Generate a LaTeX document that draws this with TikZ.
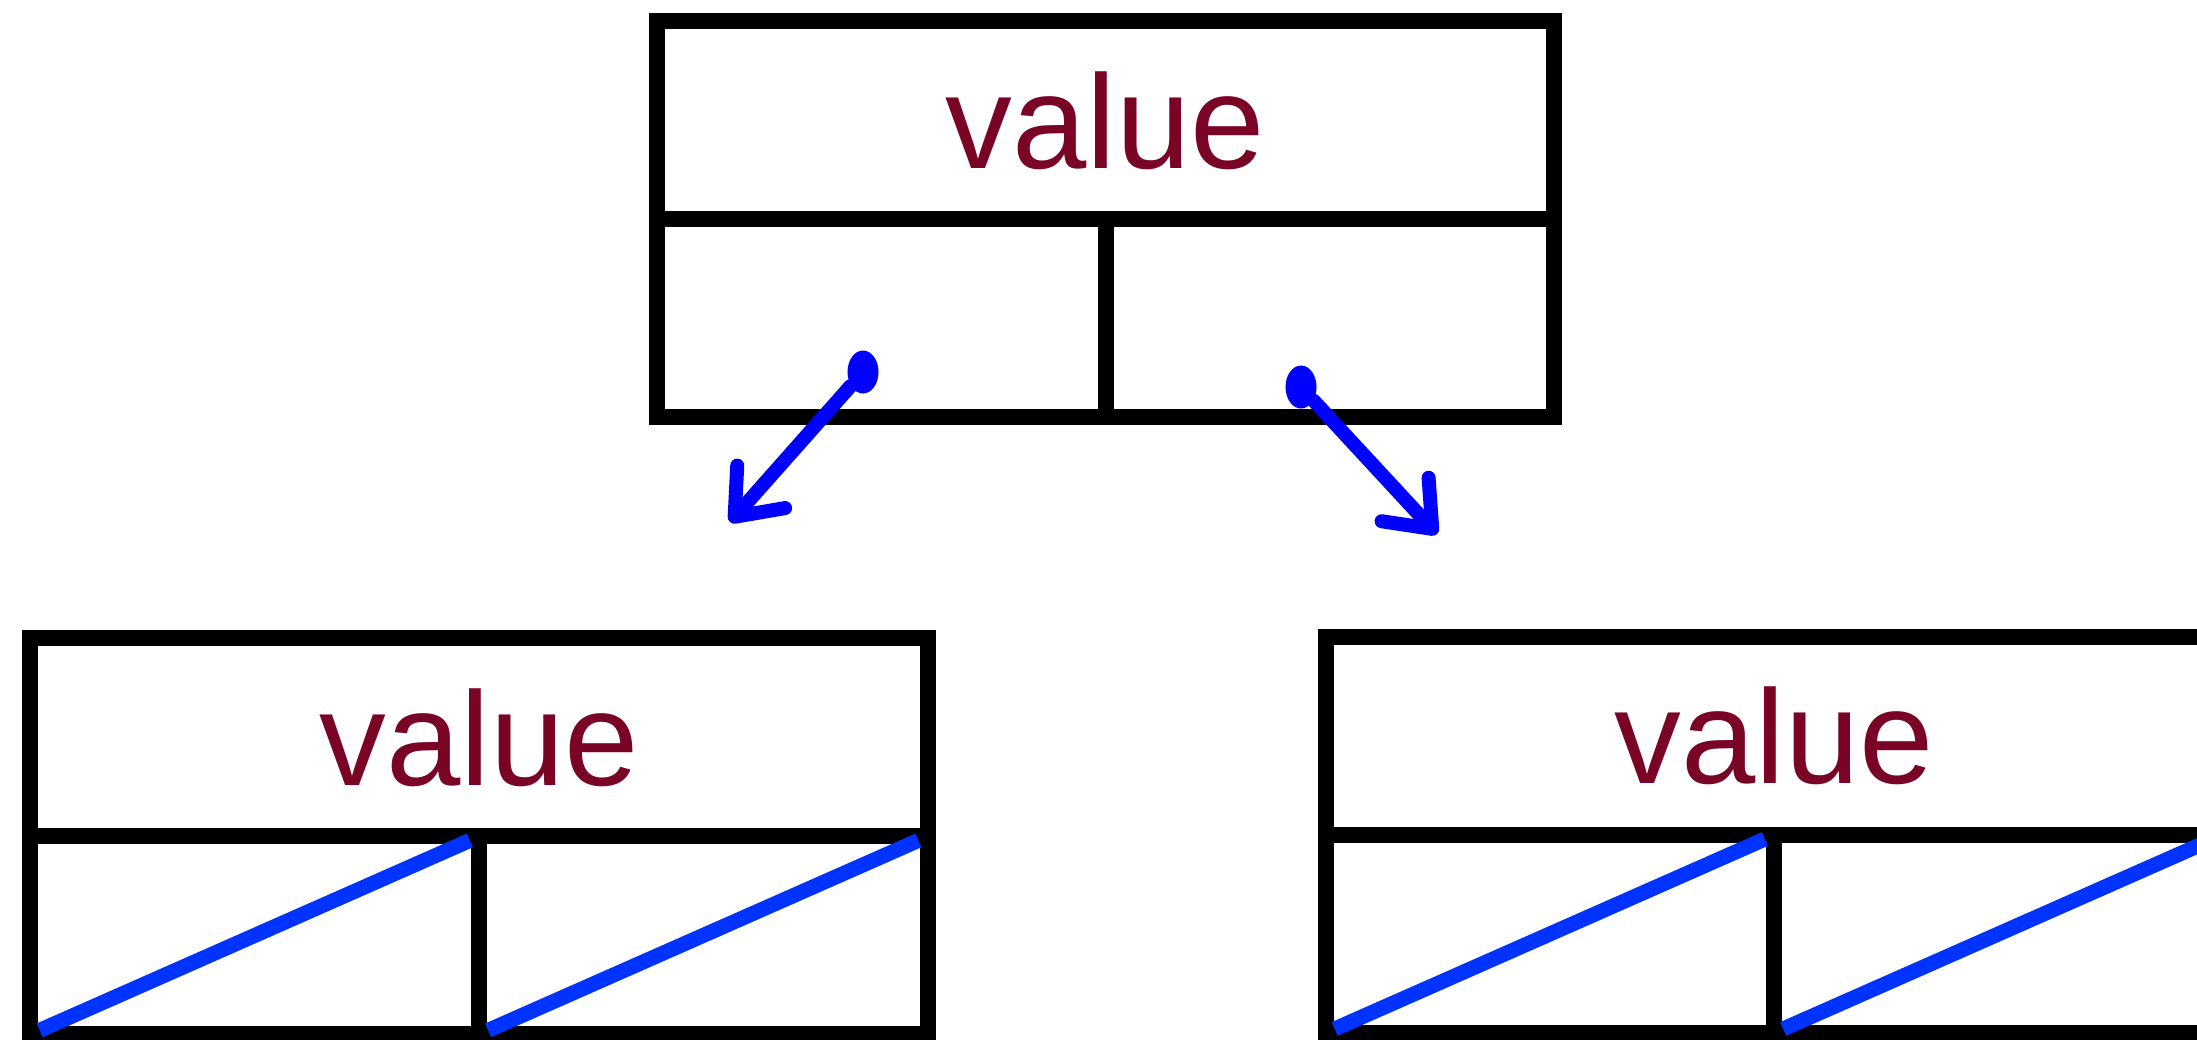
\documentclass[tikz,border=0pt]{standalone}
\usepackage{fontspec}
\setmainfont{Liberation Sans}
\usepackage{tikz}
\usetikzlibrary{arrows.meta,positioning,shapes.geometric}
\definecolor{valred}{HTML}{7A0426}
\definecolor{nullblue}{HTML}{0033FF}
\definecolor{ptrblue}{HTML}{0000FF}
\newcommand\valfont{\fontsize{38}{46}\selectfont}

\begin{document}
\begin{tikzpicture}[
  field/.style={draw, line width=0.16cm, minimum width=8.97cm, minimum height=1.98cm, inner sep=0pt, outer sep=0pt, font=\valfont, text=valred},
  cell/.style={draw, line width=0.16cm, minimum width=4.485cm, minimum height=1.98cm, inner sep=0pt, outer sep=0pt},
  nullptr/.style={nullblue, line width=0.15cm, shorten <=0.1cm, shorten >=0.1cm},
  blob/.style={ellipse, fill=ptrblue, minimum width=0.31cm, minimum height=0.43cm, inner sep=0pt},
  ptr/.style={ptrblue, line width=0.14cm, line cap=round, line join=round},
  >={Straight Barb[length=0.4cm, width=0.64cm, line cap=round, line join=round]}
]
\clip (0,0) rectangle (21.97,-10.39);

% tree nodes: value field with two pointer cells below
\foreach \n/\x/\y in {root/11.055/-1.204, lc/4.79/-7.374, rc/17.74/-7.36}{
  \node[field] (\n v) at (\x,\y) {value};
  \node[cell, anchor=north west] (\n l) at (\n v.south west) {};
  \node[cell, anchor=north east] (\n r) at (\n v.south east) {};
}

% empty children
\foreach \n in {lcl, lcr, rcl, rcr}{
  \draw[nullptr] (\n.south west) -- (\n.north east);
}

% child pointers of the root
\node[blob] (ltail) at (8.63,-3.72) {};
\node[blob] (rtail) at (13.01,-3.87) {};
\coordinate (lhead) at (7.30,-5.22);
\coordinate (rhead) at (14.37,-5.34);
\draw[ptr, ->] (ltail) -- (lhead);
\draw[ptr, ->] (rtail) -- (rhead);
\end{tikzpicture}
\end{document}
